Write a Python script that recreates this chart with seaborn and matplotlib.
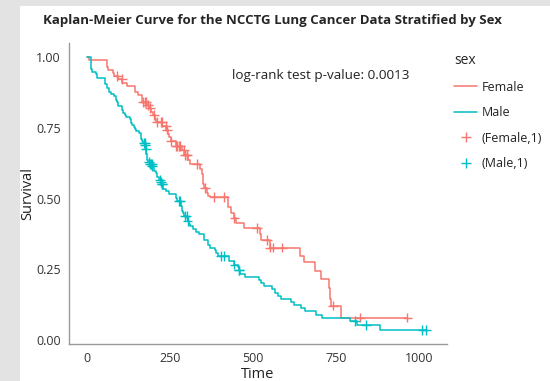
#curvas de Kaplan-Meier del conjunto NCCTG (lung) por sexo
import numpy as np
import pandas as pd
import matplotlib
matplotlib.use("Agg")
import matplotlib.pyplot as plt
from matplotlib.lines import Line2D
from matplotlib.patches import Rectangle
import seaborn as sns

#valores: tiempos de los escalones y supervivencia
female_time = [0, 5, 60, 61, 62, 79, 81, 95, 107, 122, 145, 153, 166, 167, 182, 186, 194, 199,
               205, 208, 226, 239, 245, 246, 252, 268, 285, 293, 305, 310, 340, 345, 348, 350,
               351, 361, 363, 371, 426, 433, 444, 450, 473, 520, 524, 550, 641, 654, 687, 705,
               728, 731, 735, 765, 965]
female_surv = [1.0, 0.989, 0.978, 0.966, 0.955, 0.944, 0.933, 0.922, 0.910, 0.899, 0.876, 0.865,
               0.854, 0.842, 0.831, 0.819, 0.807, 0.795, 0.783, 0.770, 0.757, 0.744, 0.730, 0.716,
               0.702, 0.686, 0.671, 0.655, 0.638, 0.622, 0.605, 0.588, 0.571, 0.553, 0.536, 0.519,
               0.510, 0.505, 0.470, 0.450, 0.430, 0.412, 0.395, 0.375, 0.355, 0.327, 0.297, 0.275,
               0.245, 0.216, 0.183, 0.145, 0.122, 0.0795, 0.0795]

male_time = [0, 11, 12, 13, 15, 26, 30, 31, 53, 54, 59, 60, 65, 71, 81, 88, 92, 93, 95, 105,
             107, 110, 116, 118, 131, 132, 135, 142, 144, 147, 156, 163, 166, 170, 175, 176, 177,
             179, 180, 181, 183, 189, 197, 201, 202, 207, 210, 212, 218, 222, 223, 229, 230, 239,
             246, 267, 269, 270, 283, 284, 285, 286, 288, 291, 301, 303, 306, 310, 320, 329, 337,
             353, 363, 364, 371, 387, 390, 394, 428, 429, 442, 455, 457, 460, 477, 519, 524, 533,
             558, 567, 574, 583, 613, 624, 643, 655, 689, 707, 791, 814, 883, 1022]
male_surv = [1.0, 0.978, 0.971, 0.957, 0.949, 0.942, 0.935, 0.928, 0.913, 0.906, 0.899, 0.891,
             0.877, 0.870, 0.862, 0.848, 0.841, 0.833, 0.826, 0.819, 0.812, 0.804, 0.797, 0.790,
             0.783, 0.768, 0.761, 0.754, 0.746, 0.739, 0.732, 0.710, 0.703, 0.696, 0.688, 0.681,
             0.674, 0.659, 0.652, 0.637, 0.630, 0.622, 0.615, 0.607, 0.599, 0.591, 0.583, 0.575,
             0.567, 0.559, 0.551, 0.543, 0.535, 0.526, 0.518, 0.509, 0.501, 0.492, 0.484, 0.475,
             0.466, 0.457, 0.448, 0.439, 0.430, 0.421, 0.411, 0.402, 0.393, 0.383, 0.374, 0.355,
             0.345, 0.336, 0.326, 0.317, 0.307, 0.298, 0.288, 0.278, 0.267, 0.257, 0.246, 0.235,
             0.224, 0.213, 0.202, 0.190, 0.179, 0.168, 0.157, 0.146, 0.135, 0.124, 0.112, 0.101,
             0.0898, 0.0786, 0.0673, 0.0539, 0.0359, 0.0359]

#tiempos censurados (marcas +)
female_cens = [92, 105, 170, 174, 177, 185, 191, 203, 211, 224, 225, 237, 240, 252, 269, 272,
               276, 279, 292, 296, 300, 301, 332, 356, 384, 413, 444, 511, 543, 551, 559, 588,
               740, 821, 965]
male_cens = [173, 174, 175, 177, 188, 191, 192, 196, 197, 221, 222, 225, 226, 276, 279, 296,
             300, 303, 404, 413, 444, 457, 458, 806, 840, 1010, 1022]

x_ticks = [0, 250, 500, 750, 1000]
y_ticks = [0.0, 0.25, 0.50, 0.75, 1.0]
p_text = "log-rank test p-value: 0.0013"

colores = {"Female": "#F8766D", "Male": "#00BFC4"}


#valor de la curva escalonada en los tiempos censurados
def nivel(tiempos, surv, t):
    idx = np.searchsorted(tiempos, t, side="right") - 1
    return np.array(surv)[idx]


df_lineas = pd.concat([
    pd.DataFrame({"time": female_time, "surv": female_surv, "sex": "Female"}),
    pd.DataFrame({"time": male_time, "surv": male_surv, "sex": "Male"}),
])
df_cens = pd.concat([
    pd.DataFrame({"time": female_cens, "surv": nivel(female_time, female_surv, female_cens), "sex": "Female"}),
    pd.DataFrame({"time": male_cens, "surv": nivel(male_time, male_surv, male_cens), "sex": "Male"}),
])

sns.set_style("white")
plt.rcParams["font.family"] = ["Open Sans", "DejaVu Sans"]

fig = plt.figure(figsize=(5.5, 3.81), dpi=100)
fig.patch.set_facecolor("#e3e3e3")
fig.add_artist(Rectangle((20 / 550, 0), 1, 375 / 381, transform=fig.transFigure,
                         facecolor="white", edgecolor="none", zorder=-1))

ax = fig.add_axes([69 / 550, 37 / 381, 378 / 550, 301 / 381])
ax.set_facecolor("white")

sns.lineplot(data=df_lineas, x="time", y="surv", hue="sex", palette=colores,
             drawstyle="steps-post", estimator=None, linewidth=1.1, legend=False, ax=ax)
sns.scatterplot(data=df_cens, x="time", y="surv", hue="sex", palette=colores,
                marker="+", s=50, linewidth=1.0, legend=False, ax=ax)

ax.set_xlim(-54, 1084)
ax.set_ylim(-0.014, 1.05)
ax.set_xticks(x_ticks)
ax.set_xticklabels([str(v) for v in x_ticks])
ax.set_yticks(y_ticks)
ax.set_yticklabels(["%.2f" % v for v in y_ticks])
ax.tick_params(length=4, width=1, color="#999999", labelsize=9, labelcolor="#333333", pad=2)
for lado in ["top", "right"]:
    ax.spines[lado].set_visible(False)
for lado in ["left", "bottom"]:
    ax.spines[lado].set_color("#999999")
    ax.spines[lado].set_linewidth(1)

ax.set_xlabel("Time", fontsize=10.5, color="#222222", labelpad=1.5)
ax.set_ylabel("Survival", fontsize=10.5, color="#222222", labelpad=0.5)
ax.text(705, 0.934, p_text, ha="center", va="center", fontsize=9.7, color="#222222")

fig.text(0.495, 0.947, "Kaplan-Meier Curve for the NCCTG Lung Cancer Data Stratified by Sex",
         ha="center", va="center", fontsize=9.5, fontweight="bold")

handles = [
    Line2D([], [], color=colores["Female"], linewidth=1.1),
    Line2D([], [], color=colores["Male"], linewidth=1.1),
    Line2D([], [], color=colores["Female"], marker="+", linestyle="none", markersize=7),
    Line2D([], [], color=colores["Male"], marker="+", linestyle="none", markersize=7),
]
leg = fig.legend(handles, ["Female", "Male", "(Female,1)", "(Male,1)"], title="sex",
                 loc="upper left", bbox_to_anchor=(443 / 550, 1 - 42 / 381), frameon=False,
                 fontsize=9, title_fontsize=10, labelspacing=1.0, handlelength=1.8,
                 handletextpad=0.4)
leg._legend_box.align = "left"
for t in leg.get_texts():
    t.set_color("#222222")

fig.savefig("out.png", dpi=100)
